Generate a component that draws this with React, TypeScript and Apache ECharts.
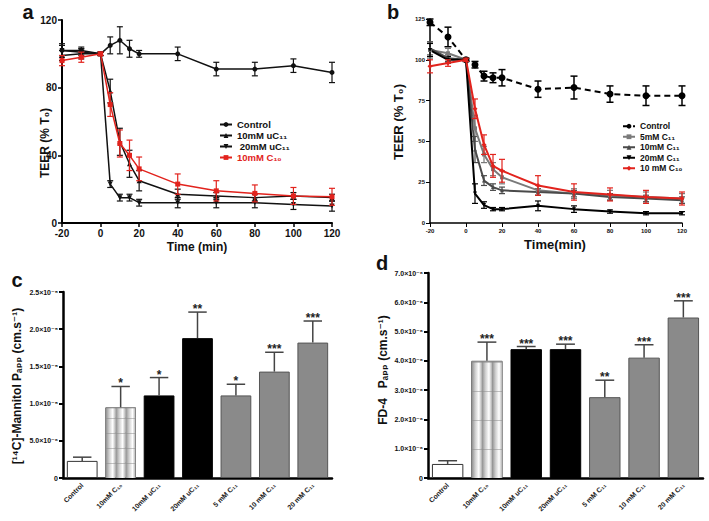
import React, { useEffect, useRef } from "react";
import * as echarts from "echarts";

const FONT = "'Liberation Sans', Arial, 'DejaVu Sans', sans-serif";
const RED = "#e2231d";

// ---------- Panel a ----------
const timeA = [-20, -10, 0, 5, 10, 15, 20, 40, 60, 80, 100, 120];
const aControl = [102, 102, 100, 105, 108, 103, 100, 100, 91, 91, 93, 89];
const aControlErr = [4, 2, 1, 5, 8, 5, 2, 4, 4, 4, 4, 6];
const aUC11_10 = [99, 100, 100, 78, 48, 35, 25, 17, 16, 15, 16, 15];
const aUC11_10Err = [3, 3, 1, 7, 8, 8, 6, 3, 2, 2, 2, 2];
const aUC11_20 = [102, 101, 100, 23, 15, 15, 12, 12, 12, 12, 11, 10];
const aUC11_20Err = [3, 2, 1, 2, 2, 2, 2, 3, 3, 3, 3, 3];
const aC10 = [96, 98, 100, 70, 47, 40, 32, 23, 19, 17.5, 16, 15.5];
const aC10Err = [3, 3, 1, 7, 8, 9, 7, 6, 6, 5, 5, 5];

// ---------- Panel b ----------
const timeB = [-20, -10, 0, 5, 10, 15, 20, 40, 60, 80, 100, 120];
const bControl = [123, 114, 100, 97, 90, 89, 89, 82, 83, 79, 78, 78];
const bControlErr = [2, 6, 1, 2, 3, 3, 5, 5, 7, 5, 6, 6];
const bC11_5 = [106, 104, 100, 58, 42, 33, 28, 20, 18, 17, 16, 15];
const bC11_5Err = [5, 3, 1, 8, 5, 4, 4, 3, 3, 3, 3, 3];
const bC11_10 = [107, 101, 100, 45, 26, 22, 20, 19, 18, 16, 15, 14];
const bC11_10Err = [4, 2, 1, 8, 3, 2, 2, 2, 2, 2, 2, 2];
const bC11_20 = [106, 100, 100, 18, 11, 8.5, 8.5, 10.5, 8.5, 7, 6, 6];
const bC11_20Err = [4, 2, 1, 6, 2, 1, 1, 3, 2, 1, 1, 1];
const bC10 = [96, 98, 100, 70, 48, 35, 32, 23, 19, 17.5, 16, 15];
const bC10Err = [4, 2, 1, 6, 6, 7, 7, 6, 5, 4, 4, 4];

// ---------- Panels c, d ----------
const barCats = ["Control", "10mM C₁₀", "10mM uC₁₁", "20mM uC₁₁", "5 mM C₁₁", "10 mM C₁₁", "20 mM C₁₁"];
const cVals = [2.3e-6, 9.5e-6, 1.11e-5, 1.88e-5, 1.11e-5, 1.43e-5, 1.82e-5];
const cErr = [0.5e-6, 2.8e-6, 2.4e-6, 3.5e-6, 1.5e-6, 2.6e-6, 2.9e-6];
const cStars = ["", "*", "*", "**", "*", "***", "***"];
const dVals = [0.48e-6, 4.0e-6, 4.4e-6, 4.4e-6, 2.76e-6, 4.11e-6, 5.48e-6];
const dErr = [0.11e-6, 0.64e-6, 0.09e-6, 0.17e-6, 0.58e-6, 0.44e-6, 0.57e-6];
const dStars = ["", "***", "***", "***", "**", "***", "***"];

const BAR_RATIO = 0.8;

const SUP: Record<string, string> = {
  "-": "⁻", "0": "⁰", "1": "¹", "2": "²", "3": "³", "4": "⁴",
  "5": "⁵", "6": "⁶", "7": "⁷", "8": "⁸", "9": "⁹",
};
function sup(s: string) {
  return s.split("").map((c) => SUP[c] ?? c).join("");
}
function sciLabel(v: number) {
  if (Math.abs(v) < 1e-12) return "0";
  const e = Math.floor(Math.log10(v) + 1e-9);
  const m = v / Math.pow(10, e);
  return m.toFixed(1) + "×10" + sup(String(e));
}

function errRender(color: string, hw: number, lw: number) {
  return (params: any, api: any) => {
    const x = api.value(0);
    const lo = api.value(1);
    const hi = api.value(2);
    const p1 = api.coord([x, lo]);
    const p2 = api.coord([x, hi]);
    const st = { stroke: color, lineWidth: lw };
    return {
      type: "group",
      children: [
        { type: "line", shape: { x1: p1[0], y1: p1[1], x2: p2[0], y2: p2[1] }, style: st },
        { type: "line", shape: { x1: p1[0] - hw, y1: p1[1], x2: p1[0] + hw, y2: p1[1] }, style: st },
        { type: "line", shape: { x1: p2[0] - hw, y1: p2[1], x2: p2[0] + hw, y2: p2[1] }, style: st },
      ],
    };
  };
}

function lineWithErr(
  name: string, xs: number[], ys: number[], es: number[], axis: number,
  color: string, symbol: string, size: number, width: number, extra: any = {}, errW = 1.2, hw = 3
) {
  return [
    {
      type: "line",
      name,
      xAxisIndex: axis,
      yAxisIndex: axis,
      data: xs.map((x, i) => [x, ys[i]]),
      symbol,
      symbolSize: size,
      symbolRotate: extra.symbolRotate ?? 0,
      lineStyle: { color, width, type: extra.dashed ? [6, 4] : "solid" },
      itemStyle: { color },
      z: extra.z ?? 3,
    },
    {
      type: "custom",
      xAxisIndex: axis,
      yAxisIndex: axis,
      data: xs.map((x, i) => [x, ys[i] - es[i], ys[i] + es[i]]),
      encode: { x: 0, y: [1, 2] },
      renderItem: errRender(color, hw, errW),
      silent: true,
      z: extra.z ?? 3,
    },
  ];
}

const barStyles = [
  { color: "#ffffff", borderColor: "#333", borderWidth: 1 },
  { color: "#e6e6e6", borderColor: "#555", borderWidth: 1 },
  { color: "#000000", borderColor: "#000", borderWidth: 1 },
  { color: "#000000", borderColor: "#000", borderWidth: 1 },
  { color: "#8a8a8a", borderColor: "#555", borderWidth: 1 },
  { color: "#8a8a8a", borderColor: "#555", borderWidth: 1 },
  { color: "#8a8a8a", borderColor: "#555", borderWidth: 1 },
];

function barOverlay(vals: number[], errs: number[], stars: string[], rowH: number) {
  return (params: any, api: any) => {
    const i = params.dataIndex;
    const band = api.size([1, 0])[0];
    const bw = band * BAR_RATIO;
    const base = api.coord([i, 0]);
    const top = api.coord([i, vals[i]]);
    const ep = api.coord([i, vals[i] + errs[i]]);
    const cx = base[0];
    const children: any[] = [];
    if (i === 1) {
      const left = cx - bw / 2 + 0.5;
      const w = bw - 1;
      const cols = 3;
      const cw = w / cols;
      let y = base[1];
      while (y > top[1] + 0.5) {
        const y0 = Math.max(top[1] + 0.5, y - rowH);
        for (let c = 0; c < cols; c++) {
          children.push({
            type: "rect",
            shape: { x: left + c * cw, y: y0, width: cw, height: y - y0 },
            style: {
              fill: new echarts.graphic.LinearGradient(0, 0, 1, 0, [
                { offset: 0, color: "#8d8d8d" },
                { offset: 0.35, color: "#cfcfcf" },
                { offset: 0.7, color: "#ffffff" },
                { offset: 1, color: "#b0b0b0" },
              ]),
              stroke: null,
            },
          });
        }
        children.push({
          type: "line",
          shape: { x1: left, y1: y0, x2: left + w, y2: y0 },
          style: { stroke: "#8a8a8a", lineWidth: 1 },
        });
        y = y0;
      }
    }
    const hw = bw * 0.3;
    const st = { stroke: "#444", lineWidth: 1.5 };
    children.push({ type: "line", shape: { x1: cx, y1: top[1], x2: cx, y2: ep[1] }, style: st });
    children.push({ type: "line", shape: { x1: cx - hw, y1: ep[1], x2: cx + hw, y2: ep[1] }, style: st });
    if (stars[i]) {
      children.push({
        type: "text",
        x: cx,
        y: ep[1] + 3,
        style: {
          text: stars[i],
          align: "center",
          verticalAlign: "bottom",
          textAlign: "center",
          textVerticalAlign: "bottom",
          font: `bold 12px ${FONT}`,
          fill: "#222",
        },
      });
    }
    return { type: "group", children };
  };
}

const nameMap: Record<string, string> = {
  aCtrl: "Control",
  aU10: "10mM uC₁₁",
  aU20: " 20mM uC₁₁",
  aC10: "10mM C₁₀",
  bCtrl: "Control",
  bC5: "5mM C₁₁",
  bC10: "10mM C₁₁",
  bC20: "20mM C₁₁",
  bC10r: "10 mM C₁₀",
};

function valueAxis(grid: number, min: number, max: number, interval: number, fs: number, lw: number, extra: any = {}) {
  return {
    type: "value",
    gridIndex: grid,
    min,
    max,
    interval,
    splitLine: { show: false },
    axisLine: { show: true, onZero: false, lineStyle: { color: "#000", width: lw } },
    axisTick: { show: true, length: 4, lineStyle: { color: "#000", width: Math.max(1, lw - 0.5) } },
    axisLabel: { fontSize: fs, fontWeight: "bold", color: "#111", fontFamily: FONT, margin: 5, ...(extra.axisLabel || {}) },
  };
}

function catAxis(grid: number) {
  return {
    type: "category",
    gridIndex: grid,
    data: barCats,
    axisLine: { show: true, lineStyle: { color: "#000", width: 2.5 } },
    axisTick: { show: false },
    axisLabel: { interval: 0, rotate: 45, fontSize: 7, fontWeight: "bold", color: "#222", fontFamily: FONT, margin: 6 },
  };
}

function titleText(text: string, x: number, y: number, size: number, rot = 0) {
  return {
    type: "text",
    x,
    y,
    rotation: rot,
    style: {
      text,
      font: `bold ${size}px ${FONT}`,
      fill: "#111",
      align: "center",
      verticalAlign: "middle",
      textAlign: "center",
      textVerticalAlign: "middle",
    },
  };
}

export default function App() {
  const ref = useRef<HTMLDivElement>(null);
  useEffect(() => {
    if (!ref.current) return;
    const chart = echarts.init(ref.current, null, { renderer: "svg" });
    const series: any[] = [
      ...lineWithErr("aCtrl", timeA, aControl, aControlErr, 0, "#111", "circle", 5, 1.5),
      ...lineWithErr("aU10", timeA, aUC11_10, aUC11_10Err, 0, "#111", "triangle", 5, 1.5),
      ...lineWithErr("aU20", timeA, aUC11_20, aUC11_20Err, 0, "#111", "triangle", 5, 1.5, { symbolRotate: 180 }),
      ...lineWithErr("aC10", timeA, aC10, aC10Err, 0, RED, "rect", 5, 1.5, { z: 4 }),
      ...lineWithErr("bCtrl", timeB, bControl, bControlErr, 1, "#000", "circle", 7, 2, { dashed: true }, 1.5, 3.5),
      ...lineWithErr("bC5", timeB, bC11_5, bC11_5Err, 1, "#7a7a7a", "rect", 4, 2),
      ...lineWithErr("bC10", timeB, bC11_10, bC11_10Err, 1, "#4a4a4a", "triangle", 4, 2),
      ...lineWithErr("bC20", timeB, bC11_20, bC11_20Err, 1, "#000", "triangle", 4, 2, { symbolRotate: 180 }),
      ...lineWithErr("bC10r", timeB, bC10, bC10Err, 1, RED, "diamond", 5, 2, { z: 4 }),
      {
        type: "bar",
        xAxisIndex: 2,
        yAxisIndex: 2,
        barWidth: BAR_RATIO * 100 + "%",
        data: cVals.map((v, i) => ({ value: v, itemStyle: barStyles[i] })),
        z: 2,
      },
      {
        type: "custom",
        xAxisIndex: 2,
        yAxisIndex: 2,
        data: cVals.map((v, i) => [i, v + cErr[i]]),
        encode: { x: 0, y: 1 },
        renderItem: barOverlay(cVals, cErr, cStars, 15),
        silent: true,
        z: 3,
      },
      {
        type: "bar",
        xAxisIndex: 3,
        yAxisIndex: 3,
        barWidth: BAR_RATIO * 100 + "%",
        data: dVals.map((v, i) => ({ value: v, itemStyle: barStyles[i] })),
        z: 2,
      },
      {
        type: "custom",
        xAxisIndex: 3,
        yAxisIndex: 3,
        data: dVals.map((v, i) => [i, v + dErr[i]]),
        encode: { x: 0, y: 1 },
        renderItem: barOverlay(dVals, dErr, dStars, 29),
        silent: true,
        z: 3,
      },
    ];

    const option: any = {
      animation: false,
      backgroundColor: "#fff",
      textStyle: { fontFamily: FONT },
      grid: [
        { left: 62, top: 20, width: 270, height: 203 },
        { left: 430, top: 19, width: 252, height: 204 },
        { left: 63, top: 292, width: 269, height: 186 },
        { left: 428, top: 273, width: 275, height: 205 },
      ],
      xAxis: [
        valueAxis(0, -20, 120, 20, 10, 2),
        valueAxis(1, -20, 120, 20, 6, 1.5),
        catAxis(2),
        catAxis(3),
      ],
      yAxis: [
        valueAxis(0, 0, 120, 40, 10, 2),
        valueAxis(1, 0, 125, 25, 6, 1.5),
        valueAxis(2, 0, 2.5e-5, 0.5e-5, 7, 2.5, { axisLabel: { formatter: sciLabel } }),
        valueAxis(3, 0, 7e-6, 1e-6, 7, 2.5, { axisLabel: { formatter: sciLabel } }),
      ],
      legend: [
        {
          orient: "vertical",
          left: 214,
          top: 114,
          itemWidth: 12,
          itemHeight: 6,
          itemGap: 0,
          selectedMode: false,
          data: [
            { name: "aCtrl" },
            { name: "aU10" },
            { name: "aU20" },
            { name: "aC10", textStyle: { color: RED } },
          ],
          formatter: (n: string) => nameMap[n] ?? n,
          textStyle: { fontSize: 9.5, fontWeight: "bold", color: "#111", lineHeight: 11, fontFamily: FONT },
        },
        {
          orient: "vertical",
          left: 617,
          top: 116,
          itemWidth: 12,
          itemHeight: 6,
          itemGap: 0,
          selectedMode: false,
          data: ["bCtrl", "bC5", "bC10", "bC20", "bC10r"],
          formatter: (n: string) => nameMap[n] ?? n,
          textStyle: { fontSize: 8.5, fontWeight: "bold", color: "#111", lineHeight: 10.5, fontFamily: FONT },
        },
      ],
      series,
      graphic: [
        titleText("a", 28, 12, 20),
        titleText("b", 393, 12, 20),
        titleText("c", 17, 280, 20),
        titleText("d", 382, 263, 20),
        titleText("TEER (% T₀)", 45, 143, 12, Math.PI / 2),
        titleText("Time (min)", 197, 247, 12),
        titleText("TEER (% T₀)", 398, 122, 13, Math.PI / 2),
        titleText("Time(min)", 555, 244, 13),
        titleText("[¹⁴C]-Mannitol Pₐₚₚ (cm.s⁻¹)", 17, 386, 12, Math.PI / 2),
        titleText("FD-4   Pₐₚₚ (cm.s⁻¹)", 383, 370, 12, Math.PI / 2),
      ],
    };
    chart.setOption(option);
    return () => chart.dispose();
  }, []);
  return (
    <div
      ref={ref}
      style={{ position: "fixed", left: 0, top: 0, width: 709, height: 521, background: "#fff" }}
    />
  );
}
